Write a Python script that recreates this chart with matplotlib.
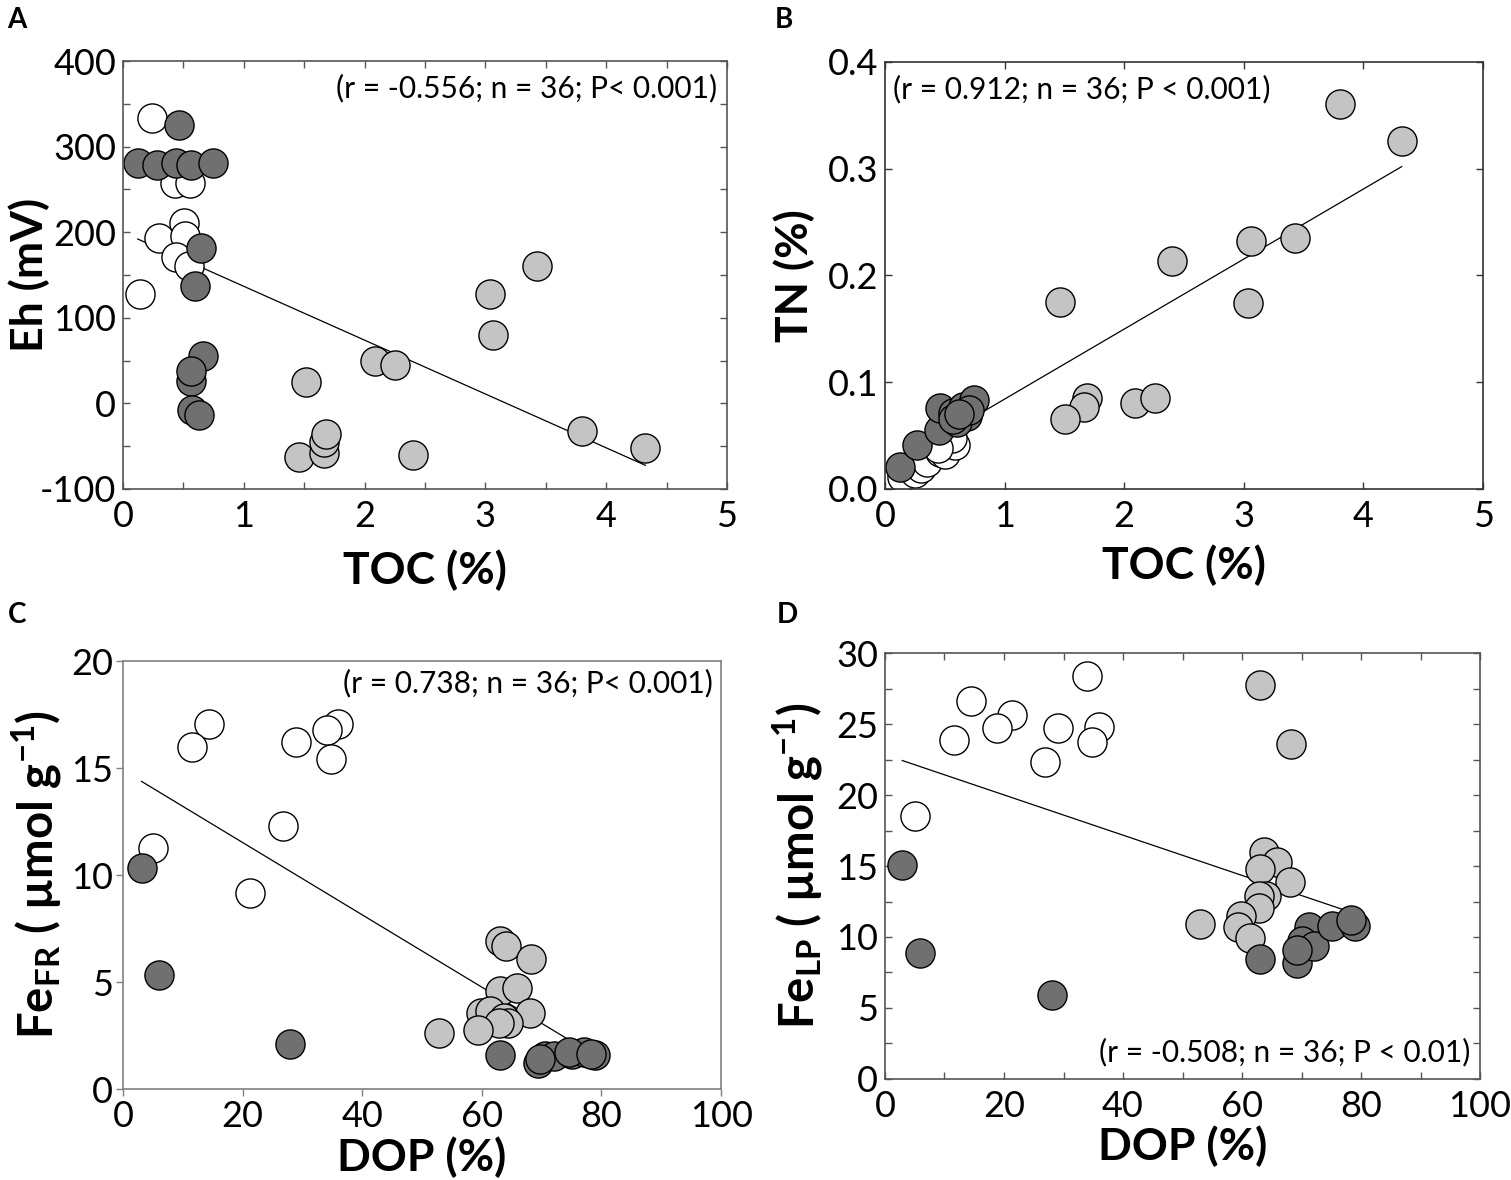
import matplotlib
matplotlib.use("Agg")
import matplotlib.pyplot as plt
import numpy as np
from matplotlib.ticker import MultipleLocator

plt.rcParams['font.family'] = ['Lato', 'DejaVu Sans']
plt.rcParams['mathtext.fontset'] = 'custom'
plt.rcParams['mathtext.rm'] = 'Lato'
plt.rcParams['mathtext.bf'] = 'Lato:bold'
plt.rcParams['axes.unicode_minus'] = False

WHITE = '#ffffff'
LIGHT = '#c4c4c4'
DARK = '#707070'

# ---- panel A: TOC vs Eh ----
a_white_toc = [0.237, 0.43, 0.557, 0.505, 0.30, 0.517, 0.44, 0.545, 0.142]
a_white_eh = [333, 257, 257, 211, 193, 195, 171, 161, 128]
a_dark_toc = [0.466, 0.122, 0.28, 0.44, 0.565, 0.742, 0.648, 0.592, 0.663, 0.56, 0.565, 0.573, 0.632]
a_dark_eh = [325, 281, 278, 281, 279, 281, 181, 137, 55, 26, 38, -8, -13]
a_light_toc = [3.43, 3.04, 3.065, 2.09, 2.255, 1.513, 1.46, 1.667, 1.66, 1.682, 2.40, 3.80, 4.325]
a_light_eh = [161, 128, 80, 50, 45, 25, -63, -58, -45, -36, -60, -32, -52]
a_fit = (-62.9, 199.7)

# ---- panel B: TOC vs TN ----
b_white_toc = [0.139, 0.25, 0.30, 0.348, 0.46, 0.50, 0.585, 0.557, 0.44]
b_white_tn = [0.0115, 0.0147, 0.020, 0.0256, 0.035, 0.033, 0.041, 0.0475, 0.038]
b_dark_toc = [0.125, 0.27, 0.454, 0.46, 0.571, 0.655, 0.747, 0.683, 0.60, 0.70, 0.57, 0.62]
b_dark_tn = [0.021, 0.041, 0.055, 0.0756, 0.071, 0.077, 0.083, 0.068, 0.063, 0.074, 0.066, 0.070]
b_light_toc = [3.80, 4.32, 3.057, 3.425, 2.396, 1.462, 3.037, 1.687, 1.667, 2.087, 2.256, 1.506]
b_light_tn = [0.361, 0.326, 0.232, 0.235, 0.214, 0.175, 0.174, 0.0856, 0.077, 0.0805, 0.085, 0.066]
b_fit = (0.0656, 0.0186)

# ---- panel C: DOP vs Fe_FR ----
c_white_dop = [14.4, 11.5, 29.0, 35.9, 34.1, 34.8, 26.8, 5.1, 21.3]
c_white_fe = [17.07, 15.96, 16.23, 17.07, 16.8, 15.4, 12.3, 11.28, 9.18]
c_dark_dop = [3.1, 6.1, 28.0, 63.1, 69.4, 70.6, 72.1, 75.1, 77.1, 78.96, 69.8, 74.5, 78.2]
c_dark_fe = [10.35, 5.32, 2.12, 1.6, 1.2, 1.55, 1.55, 1.63, 1.72, 1.58, 1.4, 1.75, 1.65]
c_light_dop = [63.1, 64.1, 68.3, 63.1, 65.9, 68.0, 59.9, 61.3, 63.7, 64.4, 62.9, 59.4, 52.8]
c_light_fe = [6.9, 6.67, 6.07, 4.6, 4.7, 3.56, 3.56, 3.65, 3.3, 3.1, 3.1, 2.77, 2.6]
c_fit = (-0.169, 14.9)

# ---- panel D: DOP vs Fe_LP ----
d_white_dop = [34.0, 14.4, 21.3, 18.8, 29.0, 36.0, 34.8, 11.6, 26.9, 5.1]
d_white_fe = [28.4, 26.6, 25.65, 24.7, 24.7, 24.8, 23.7, 23.9, 22.3, 18.5]
d_dark_dop = [2.9, 5.9, 28.0, 63.1, 69.3, 71.3, 70.1, 72.1, 75.2, 79.0, 78.3, 69.3]
d_dark_fe = [15.04, 8.9, 5.9, 8.44, 8.2, 10.7, 9.7, 9.4, 10.8, 10.8, 11.2, 9.1]
d_light_dop = [63.1, 68.3, 63.7, 65.9, 63.1, 68.1, 64.1, 62.9, 62.9, 59.9, 59.3, 61.3, 52.9]
d_light_fe = [27.76, 23.6, 15.96, 15.3, 14.8, 13.85, 12.9, 12.9, 12.05, 11.5, 10.7, 9.95, 10.95]
d_fit = (-0.1417, 22.84)

TICK_FS = 26
LABEL_FS = 32
FE_LABEL_FS = 34
NOTE_FS = 21.5


def scatter_panel(ax, groups, fit):
    allx = np.concatenate([g[0] for g in groups])
    xs = np.array([allx.min(), allx.max()])
    ax.plot(xs, fit[0] * xs + fit[1], color='black', lw=0.9, zorder=1)
    for x, y, c in groups:
        ax.scatter(x, y, s=440, c=c, edgecolors='black', linewidths=1.0, zorder=2)


def style_frame(ax, color):
    for sp in ax.spines.values():
        sp.set_color(color)
        sp.set_linewidth(1.2)
    ax.tick_params(labelsize=TICK_FS, colors='black')
    ax.tick_params(which='both', color=color)


fig = plt.figure(figsize=(15.11, 11.8), dpi=100)

# A
axA = fig.add_axes([0.0814, 0.5856, 0.3997, 0.3627])
scatter_panel(axA, [(a_white_toc, a_white_eh, WHITE), (a_light_toc, a_light_eh, LIGHT),
                    (a_dark_toc, a_dark_eh, DARK)], a_fit)
axA.set_xlim(0, 5)
axA.set_ylim(-100, 400)
axA.xaxis.set_major_locator(MultipleLocator(1))
axA.xaxis.set_minor_locator(MultipleLocator(0.5))
axA.yaxis.set_major_locator(MultipleLocator(100))
axA.yaxis.set_minor_locator(MultipleLocator(50))
axA.tick_params(which='both', direction='in', top=True, right=True, length=5, width=1)
axA.tick_params(axis='x', pad=8)
axA.tick_params(axis='y', pad=5)
style_frame(axA, '#555555')
axA.set_xlabel('TOC (%)', fontsize=LABEL_FS, fontweight='bold')
axA.set_ylabel('Eh (mV)', fontsize=LABEL_FS, fontweight='bold')
axA.xaxis.set_label_coords(0.5, -0.14)
axA.yaxis.set_label_coords(-0.12, 0.5)
axA.text(0.983, 0.937, '(r = -0.556; n = 36; P< 0.001)', transform=axA.transAxes,
         ha='right', va='center', fontsize=NOTE_FS)

# B
axB = fig.add_axes([0.5857, 0.5856, 0.3958, 0.3619])
scatter_panel(axB, [(b_white_toc, b_white_tn, WHITE), (b_light_toc, b_light_tn, LIGHT),
                    (b_dark_toc, b_dark_tn, DARK)], b_fit)
axB.set_xlim(0, 5)
axB.set_ylim(0, 0.4)
axB.xaxis.set_major_locator(MultipleLocator(1))
axB.yaxis.set_major_locator(MultipleLocator(0.1))
axB.yaxis.set_major_formatter(plt.FormatStrFormatter('%.1f'))
axB.tick_params(which='both', direction='in', top=True, right=True, length=5, width=1)
axB.tick_params(axis='x', pad=8)
axB.tick_params(axis='y', pad=5)
style_frame(axB, '#333333')
axB.set_xlabel('TOC (%)', fontsize=LABEL_FS, fontweight='bold')
axB.set_ylabel('TN (%)', fontsize=LABEL_FS, fontweight='bold')
axB.xaxis.set_label_coords(0.5, -0.13)
axB.yaxis.set_label_coords(-0.117, 0.5)
axB.text(0.013, 0.937, '(r = 0.912; n = 36; P < 0.001)', transform=axB.transAxes,
         ha='left', va='center', fontsize=NOTE_FS)

# C
axC = fig.add_axes([0.0814, 0.0771, 0.3958, 0.3627])
scatter_panel(axC, [(c_white_dop, c_white_fe, WHITE), (c_light_dop, c_light_fe, LIGHT),
                    (c_dark_dop, c_dark_fe, DARK)], c_fit)
axC.set_xlim(0, 100)
axC.set_ylim(0, 20)
axC.xaxis.set_major_locator(MultipleLocator(20))
axC.yaxis.set_major_locator(MultipleLocator(5))
axC.tick_params(which='both', direction='out', length=5, width=1)
axC.tick_params(axis='x', pad=3)
axC.tick_params(axis='y', pad=2)
style_frame(axC, '#808080')
axC.set_xlabel('DOP (%)', fontsize=LABEL_FS, fontweight='bold')
axC.set_ylabel('Fe$_{\\mathbf{FR}}$ ( \u00b5mol g$^{\\mathbf{-1}}$)', fontsize=FE_LABEL_FS, fontweight='bold')
axC.xaxis.set_label_coords(0.5, -0.11)
axC.yaxis.set_label_coords(-0.10, 0.5)
axC.text(0.987, 0.949, '(r = 0.738; n = 36; P< 0.001)', transform=axC.transAxes,
         ha='right', va='center', fontsize=NOTE_FS)

# D
axD = fig.add_axes([0.5857, 0.0856, 0.3938, 0.361])
scatter_panel(axD, [(d_white_dop, d_white_fe, WHITE), (d_light_dop, d_light_fe, LIGHT),
                    (d_dark_dop, d_dark_fe, DARK)], d_fit)
axD.set_xlim(0, 100)
axD.set_ylim(0, 30)
axD.xaxis.set_major_locator(MultipleLocator(20))
axD.xaxis.set_minor_locator(MultipleLocator(10))
axD.yaxis.set_major_locator(MultipleLocator(5))
axD.yaxis.set_minor_locator(MultipleLocator(2.5))
axD.tick_params(which='both', direction='in', top=True, right=True, length=5, width=1)
axD.tick_params(axis='x', pad=8)
axD.tick_params(axis='y', pad=5)
style_frame(axD, '#555555')
axD.set_xlabel('DOP (%)', fontsize=LABEL_FS, fontweight='bold')
axD.set_ylabel('Fe$_{\\mathbf{LP}}$ ( \u00b5mol g$^{\\mathbf{-1}}$)', fontsize=FE_LABEL_FS, fontweight='bold')
axD.xaxis.set_label_coords(0.5, -0.11)
axD.yaxis.set_label_coords(-0.103, 0.5)
axD.text(0.983, 0.063, '(r = -0.508; n = 36; P < 0.01)', transform=axD.transAxes,
         ha='right', va='center', fontsize=NOTE_FS)

# panel letters
for lx, ly, letter in [(0.005, 0.994, 'A'), (0.513, 0.994, 'B'),
                       (0.005, 0.490, 'C'), (0.514, 0.490, 'D')]:
    fig.text(lx, ly, letter, fontsize=20, fontweight='bold', ha='left', va='top')

fig.savefig('out.png', dpi=100)
